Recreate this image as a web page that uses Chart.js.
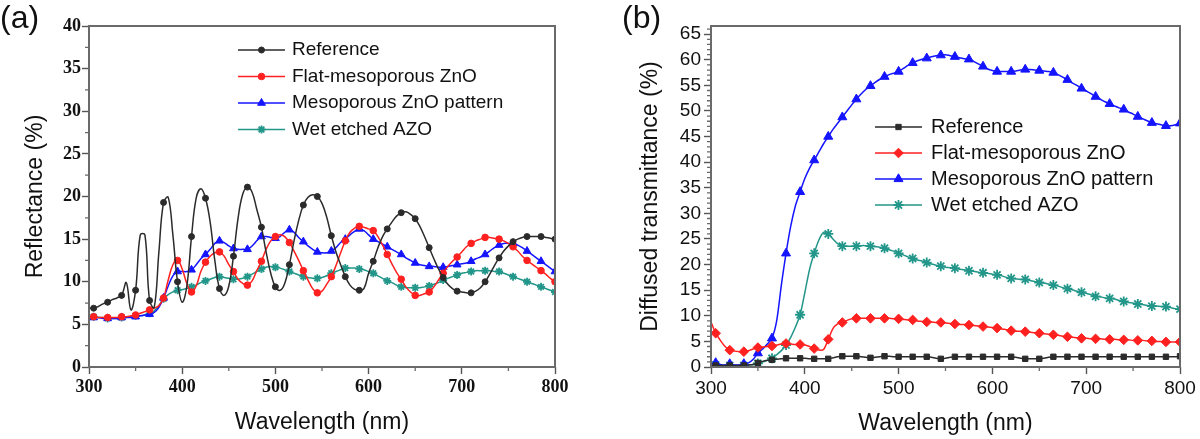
<!DOCTYPE html>
<html>
<head>
<meta charset="utf-8">
<script src="https://cdn.jsdelivr.net/npm/chart.js@4.4.1/dist/chart.umd.min.js"></script>
<style>
  body { margin: 0; background: #fff; }
  #wrap { position: relative; width: 1200px; height: 439px; background: #fff; overflow: hidden; }
  canvas { position: absolute; top: 0; }
  .tag { position: absolute; top: 1px; font: 32px "Liberation Sans", Arial, sans-serif; color: #111; line-height: 1; }
</style>
</head>
<body>
<div id="wrap">
  <canvas id="chartA" width="590" height="439" style="left:0"></canvas>
  <canvas id="chartB" width="610" height="439" style="left:590px"></canvas>
  <div class="tag" style="left:0">(a)</div>
  <div class="tag" style="left:622px">(b)</div>
</div>
<script>
// 파장 (nm), 5 nm 간격
const wavelength = [
  300, 305, 310, 315, 320, 325, 330, 335, 340, 345,
  350, 355, 360, 365, 370, 375, 380, 385, 390, 395,
  400, 405, 410, 415, 420, 425, 430, 435, 440, 445,
  450, 455, 460, 465, 470, 475, 480, 485, 490, 495,
  500, 505, 510, 515, 520, 525, 530, 535, 540, 545,
  550, 555, 560, 565, 570, 575, 580, 585, 590, 595,
  600, 605, 610, 615, 620, 625, 630, 635, 640, 645,
  650, 655, 660, 665, 670, 675, 680, 685, 690, 695,
  700, 705, 710, 715, 720, 725, 730, 735, 740, 745,
  750, 755, 760, 765, 770, 775, 780, 785, 790, 795,
  800
];
const seriesNames = ['Reference', 'Flat-mesoporous ZnO', 'Mesoporous ZnO pattern', 'Wet etched AZO'];

// 눈금 라벨
const xTicks = [300, 400, 500, 600, 700, 800];
const yTicksA = [0, 5, 10, 15, 20, 25, 30, 35, 40];
const yTicksB = [0, 5, 10, 15, 20, 25, 30, 35, 40, 45, 50, 55, 60, 65];

// (a) Reflectance (%)
const refA = [
  6.9, 6.9, 7.1, 7.4, 7.6, 7.9, 8.1, 8.4, 9.9, 6.7,
  9.0, 15.5, 15.5, 7.8, 7.0, 13.5, 19.3, 19.9, 15.5, 10.0,
  7.6, 9.5, 15.3, 19.8, 20.9, 19.8, 17.0, 12.5, 9.2, 8.4,
  9.5, 13.0, 17.5, 20.3, 21.1, 20.5, 18.5, 16.4, 13.5, 11.0,
  9.4, 9.0, 9.8, 12.0, 14.8, 17.2, 19.0, 19.9, 20.2, 20.0,
  19.2, 17.6, 15.4, 13.5, 12.0, 10.6, 9.6, 9.1, 9.0, 9.2,
  11.0, 12.4, 14.0, 15.3, 16.2, 17.0, 17.7, 18.1, 18.2, 17.9,
  17.4, 16.5, 15.3, 14.0, 12.7, 11.5, 10.5, 9.7, 9.2, 8.9,
  8.8, 8.7, 8.7, 8.9, 9.3, 10.0, 10.9, 11.9, 12.8, 13.6,
  14.2, 14.7, 15.0, 15.2, 15.3, 15.3, 15.3, 15.3, 15.2, 15.1,
  15.0
];
const flatA = [
  5.9, 5.9, 5.8, 5.8, 5.8, 5.8, 5.8, 5.9, 5.9, 6.0,
  6.1, 6.3, 6.5, 6.7, 6.9, 7.2, 8.1, 10.2, 12.0, 12.5,
  11.5, 9.8, 8.8, 9.5, 11.2, 12.3, 13.0, 13.4, 13.5, 13.0,
  12.0, 11.2, 10.3, 9.8, 9.6, 10.1, 11.3, 12.4, 13.8, 14.8,
  15.3, 15.5, 15.3, 14.6, 13.6, 12.5, 11.3, 10.2, 9.2, 8.7,
  8.9, 9.7, 10.6, 11.9, 13.4, 14.8, 15.8, 16.3, 16.5, 16.4,
  16.2, 16.0, 15.3, 14.3, 13.2, 12.1, 11.1, 10.3, 9.4, 8.8,
  8.4, 8.4, 8.6, 8.8, 9.4, 10.2, 11.0, 11.8, 12.4, 12.9,
  13.5, 14.1, 14.5, 14.8, 15.0, 15.2, 15.2, 15.1, 15.0, 14.8,
  14.5, 14.1, 13.6, 13.0, 12.5, 12.1, 11.7, 11.3, 10.9, 10.4,
  10.0
];
const patternA = [
  5.8, 5.8, 5.8, 5.7, 5.7, 5.7, 5.7, 5.8, 5.8, 5.8,
  5.9, 6.0, 6.1, 6.2, 6.4, 7.0, 8.1, 9.5, 10.7, 11.2,
  11.2, 11.2, 11.4, 12.0, 12.7, 13.2, 13.8, 14.5, 14.8, 14.6,
  14.2, 13.9, 13.8, 13.8, 13.8, 14.2, 14.8, 15.3, 15.3, 15.2,
  15.1, 15.3, 15.8, 16.1, 15.8, 15.2, 14.7, 14.2, 13.8, 13.5,
  13.4, 13.4, 13.6, 14.0, 14.6, 15.0, 15.5, 15.9, 16.2, 16.0,
  15.5, 15.0, 14.7, 14.4, 14.1, 13.8, 13.5, 13.2, 12.8, 12.5,
  12.2, 12.0, 11.9, 11.8, 11.8, 11.7, 11.7, 11.8, 11.9, 12.0,
  12.1, 12.2, 12.4, 12.7, 12.9, 13.2, 13.6, 14.0, 14.3, 14.5,
  14.5, 14.5, 14.3, 14.0, 13.6, 13.2, 12.8, 12.4, 12.0, 11.6,
  11.2
];
const azoA = [
  5.9, 5.9, 5.8, 5.8, 5.7, 5.7, 5.7, 5.8, 5.8, 5.9,
  6.0, 6.0, 6.1, 6.3, 6.6, 7.2, 8.0, 8.5, 8.8, 9.0,
  9.1, 9.2, 9.4, 9.6, 9.9, 10.1, 10.3, 10.5, 10.6, 10.5,
  10.4, 10.3, 10.3, 10.4, 10.6, 10.9, 11.2, 11.5, 11.7, 11.8,
  11.7, 11.6, 11.4, 11.2, 11.0, 10.8, 10.6, 10.5, 10.4, 10.4,
  10.5, 10.7, 11.0, 11.2, 11.4, 11.6, 11.6, 11.6, 11.5, 11.4,
  11.2, 11.0, 10.7, 10.4, 10.1, 9.9, 9.6, 9.4, 9.3, 9.3,
  9.3, 9.3, 9.4, 9.5, 9.7, 9.9, 10.2, 10.4, 10.6, 10.8,
  11.0, 11.1, 11.2, 11.3, 11.3, 11.3, 11.3, 11.2, 11.2, 11.0,
  10.8, 10.6, 10.4, 10.2, 10.0, 9.8, 9.6, 9.4, 9.2, 9.0,
  8.8
];

// (b) Diffused transmittance (%)
const refB = [
  0.3, 0.3, 0.3, 0.3, 0.3, 0.3, 0.3, 0.3, 0.4, 0.5,
  0.8, 1.1, 1.3, 1.4, 1.5, 1.6, 1.7, 1.7, 1.7, 1.7,
  1.7, 1.6, 1.6, 1.6, 1.6, 1.6, 1.8, 2.0, 2.1, 2.1,
  2.1, 2.1, 2.0, 1.9, 1.8, 1.9, 2.0, 2.1, 2.1, 2.0,
  2.0, 2.0, 2.0, 2.0, 2.0, 2.0, 2.0, 1.9, 1.7, 1.6,
  1.7, 1.9, 2.0, 2.0, 2.0, 2.0, 2.0, 2.0, 2.0, 2.0,
  2.0, 2.0, 2.0, 2.0, 2.0, 1.9, 1.7, 1.6, 1.6, 1.6,
  1.6, 1.7, 1.9, 2.0, 2.0, 2.0, 2.0, 2.0, 2.0, 2.0,
  2.0, 2.0, 2.0, 2.0, 2.0, 2.0, 2.0, 2.0, 2.0, 2.0,
  2.0, 2.0, 2.0, 2.0, 2.0, 2.0, 2.0, 2.0, 2.0, 2.0,
  2.1
];
const flatB = [
  8.8, 6.6, 5.2, 4.0, 3.3, 3.1, 3.0, 3.0, 3.2, 3.5,
  3.8, 3.9, 4.0, 4.1, 4.3, 4.5, 4.6, 4.5, 4.4, 4.4,
  4.3, 4.0, 3.6, 3.3, 3.4, 5.4, 7.5, 8.4, 8.7, 9.1,
  9.4, 9.5, 9.5, 9.5, 9.5, 9.5, 9.5, 9.5, 9.5, 9.4,
  9.4, 9.3, 9.2, 9.2, 9.0, 8.9, 8.8, 8.8, 8.7, 8.7,
  8.6, 8.5, 8.4, 8.3, 8.3, 8.2, 8.1, 8.0, 7.9, 7.8,
  7.7, 7.6, 7.4, 7.3, 7.1, 7.0, 7.0, 6.9, 6.8, 6.7,
  6.6, 6.5, 6.4, 6.3, 6.2, 6.0, 5.9, 5.8, 5.7, 5.6,
  5.6, 5.5, 5.5, 5.5, 5.4, 5.4, 5.4, 5.3, 5.3, 5.3,
  5.2, 5.2, 5.2, 5.1, 5.1, 5.0, 5.0, 4.9, 4.9, 4.9,
  4.9
];
const patternB = [
  0.3, 0.8, 0.5, 0.4, 0.6, 0.4, 0.4, 0.6, 0.8, 1.5,
  2.7, 3.5, 4.5, 5.6, 9.0, 16.0, 22.2, 27.5, 31.5, 34.2,
  36.8, 38.8, 40.4, 42.0, 43.6, 45.0, 46.4, 47.6, 48.8, 50.0,
  51.2, 52.3, 53.3, 54.2, 54.9, 55.6, 56.2, 56.7, 57.1, 57.4,
  57.7, 58.3, 58.9, 59.4, 59.8, 60.1, 60.3, 60.6, 60.8, 60.9,
  61.0, 60.8, 60.6, 60.4, 60.2, 60.1, 59.7, 59.2, 58.7, 58.2,
  57.9, 57.7, 57.7, 57.7, 57.7, 57.8, 58.0, 58.1, 58.1, 58.0,
  57.9, 57.8, 57.7, 57.5, 57.1, 56.6, 56.1, 55.5, 55.0, 54.4,
  53.9, 53.4, 52.8, 52.3, 51.8, 51.4, 51.0, 50.6, 50.3, 49.8,
  49.4, 48.9, 48.5, 48.1, 47.7, 47.5, 47.3, 47.1, 47.1, 47.3,
  47.6
];
const azoB = [
  0.3, 0.4, 0.3, 0.3, 0.3, 0.3, 0.3, 0.3, 0.4, 0.5,
  0.7, 1.0, 1.3, 1.7, 2.4, 3.2, 4.3, 5.8, 7.8, 10.2,
  14.5, 19.0, 22.2, 24.8, 26.3, 26.0, 25.0, 24.1, 23.6, 23.6,
  23.6, 23.6, 23.7, 23.7, 23.6, 23.5, 23.4, 23.2, 22.9, 22.6,
  22.2, 21.9, 21.5, 21.2, 20.9, 20.7, 20.4, 20.1, 19.9, 19.7,
  19.5, 19.4, 19.3, 19.1, 19.0, 18.8, 18.7, 18.5, 18.4, 18.3,
  18.1, 18.0, 17.8, 17.5, 17.3, 17.2, 17.1, 17.1, 16.9, 16.7,
  16.5, 16.4, 16.2, 16.0, 15.8, 15.5, 15.3, 15.1, 14.8, 14.6,
  14.4, 14.1, 13.8, 13.7, 13.5, 13.4, 13.3, 13.0, 12.8, 12.6,
  12.5, 12.3, 12.2, 12.0, 11.9, 11.9, 11.8, 11.8, 11.6, 11.4,
  11.3
];

const SANS = '"Liberation Sans", Arial, sans-serif';
const SERIF = '"Liberation Serif", "Times New Roman", serif';
const COLORS = ['#2b2b2b', '#ff2020', '#1414ff', '#23968a'];

function pts(values) {
  return values.map((v, i) => ({ x: wavelength[i], y: v }));
}

// 마커는 15 nm 마다 (305, 320, ...)
function markerRadius(r) {
  return (ctx) => (ctx.dataIndex % 3 === 1 ? r : 0);
}

function makeSet(i, values, style, r, tension) {
  return {
    label: seriesNames[i],
    data: pts(values),
    borderColor: COLORS[i],
    backgroundColor: COLORS[i],
    pointBackgroundColor: COLORS[i],
    pointBorderColor: COLORS[i],
    borderWidth: 1.5,
    pointStyle: style,
    pointRadius: markerRadius(r),
    pointBorderWidth: style === 'star' ? 1.8 : 1,
    legendRadius: r,
    tension: tension
  };
}

// 그래프 안쪽 범례
const insideLegend = {
  id: 'insideLegend',
  afterDraw(chart, args, o) {
    const ctx = chart.ctx;
    ctx.save();
    ctx.font = o.font;
    ctx.textBaseline = 'middle';
    chart.data.datasets.forEach((ds, i) => {
      const y = o.y + i * o.dy;
      ctx.strokeStyle = ds.borderColor;
      ctx.lineWidth = ds.borderWidth;
      ctx.beginPath();
      ctx.moveTo(o.x, y);
      ctx.lineTo(o.x + o.len, y);
      ctx.stroke();
      ctx.fillStyle = ds.pointBackgroundColor;
      ctx.strokeStyle = ds.pointBorderColor;
      ctx.lineWidth = ds.pointBorderWidth;
      Chart.helpers.drawPoint(ctx, { pointStyle: ds.pointStyle, radius: ds.legendRadius, borderWidth: ds.pointBorderWidth, rotation: 0 }, o.x + o.len / 2, y);
      ctx.fillStyle = '#111';
      ctx.fillText(ds.label, o.x + o.len + o.gap, y);
    });
    ctx.restore();
  }
};

// 테두리 + 보조 눈금
const frameAndMinor = {
  id: 'frameAndMinor',
  afterDraw(chart, args, o) {
    const ctx = chart.ctx;
    const a = chart.chartArea;
    const xs = chart.scales.x, ys = chart.scales.y;
    ctx.save();
    ctx.strokeStyle = o.color;
    ctx.lineWidth = 1.3;
    ctx.beginPath();
    for (let v = xs.min; v <= xs.max + 1e-6; v += o.xMinor) {
      if (Math.abs(v % o.xMajor) < 1e-6) continue;
      const px = xs.getPixelForValue(v);
      ctx.moveTo(px, a.bottom);
      ctx.lineTo(px, a.bottom + 4);
    }
    for (let v = 0; v <= ys.max + 1e-6; v += o.yMinor) {
      const r = v % o.yMajor;
      if (Math.abs(r) < 1e-6 || Math.abs(r - o.yMajor) < 1e-6) continue;
      const py = ys.getPixelForValue(v);
      ctx.moveTo(a.left, py);
      ctx.lineTo(a.left - 4, py);
    }
    ctx.stroke();
    ctx.lineWidth = 2;
    ctx.strokeRect(a.left, a.top, a.right - a.left, a.bottom - a.top);
    ctx.restore();
  }
};

function axes(cfg) {
  return {
    x: {
      type: 'linear', min: 300, max: 800,
      afterBuildTicks: (s) => { s.ticks = xTicks.map(v => ({ value: v })); },
      afterFit: (s) => { s.height = 72; },
      ticks: { font: cfg.tickFont, color: '#111', padding: 3, maxRotation: 0 },
      grid: { drawOnChartArea: false, tickLength: 7, tickColor: '#555', tickWidth: 1.4 },
      border: { display: false },
      title: { display: true, text: 'Wavelength (nm)', font: { family: SANS, size: 23 }, color: '#111', padding: { top: 0, bottom: cfg.xTitlePad } }
    },
    y: {
      min: 0, max: cfg.yMax,
      afterBuildTicks: (s) => { s.ticks = cfg.yTicks.map(v => ({ value: v })); },
      afterFit: (s) => { s.width = cfg.yWidth; },
      ticks: { font: cfg.tickFont, color: '#111', padding: cfg.yTickPad },
      grid: { drawOnChartArea: false, tickLength: 7, tickColor: '#555', tickWidth: 1.4 },
      border: { display: false },
      title: { display: true, text: cfg.yTitle, font: { family: SANS, size: 23 }, color: '#111', padding: { top: cfg.yTitlePad, bottom: 0 } }
    }
  };
}

new Chart(document.getElementById('chartA'), {
  type: 'line',
  data: {
    datasets: [
      makeSet(0, refA, 'circle', 3, 0.4),
      makeSet(1, flatA, 'circle', 3.3, 0.4),
      makeSet(2, patternA, 'triangle', 4.5, 0.4),
      makeSet(3, azoA, 'star', 4, 0.4)
    ]
  },
  options: {
    responsive: false,
    animation: false,
    layout: { padding: { left: 0, right: 35, top: 26, bottom: 0 } },
    scales: axes({
      tickFont: { family: SERIF, size: 18, weight: 'bold' },
      yMax: 40, yTicks: yTicksA, yWidth: 89, yTickPad: 1,
      yTitle: 'Reflectance (%)', yTitlePad: 22, xTitlePad: 3
    }),
    plugins: {
      legend: { display: false },
      tooltip: { enabled: false },
      insideLegend: { x: 238, y: 50, dy: 26.5, len: 47, gap: 7, font: '19px ' + SANS },
      frameAndMinor: { color: '#6a6a6a', xMajor: 100, xMinor: 50, yMajor: 5, yMinor: 2.5 }
    }
  },
  plugins: [insideLegend, frameAndMinor]
});

new Chart(document.getElementById('chartB'), {
  type: 'line',
  data: {
    datasets: [
      makeSet(0, refB, 'rect', 3.8, 0.3),
      makeSet(1, flatB, 'rectRot', 4.8, 0.3),
      makeSet(2, patternB, 'triangle', 5.2, 0.3),
      makeSet(3, azoB, 'star', 5, 0.3)
    ]
  },
  options: {
    responsive: false,
    animation: false,
    layout: { padding: { left: 0, right: 20, top: 26, bottom: 0 } },
    scales: axes({
      tickFont: { family: SANS, size: 19 },
      yMax: 66.6, yTicks: yTicksB, yWidth: 121, yTickPad: 3,
      yTitle: 'Diffused transmittance (%)', yTitlePad: 47, xTitlePad: 2
    }),
    plugins: {
      legend: { display: false },
      tooltip: { enabled: false },
      insideLegend: { x: 285, y: 127, dy: 26, len: 47, gap: 9, font: '20px ' + SANS },
      frameAndMinor: { color: '#6a6a6a', xMajor: 100, xMinor: 50, yMajor: 5, yMinor: 1 }
    }
  },
  plugins: [insideLegend, frameAndMinor]
});
</script>
</body>
</html>
